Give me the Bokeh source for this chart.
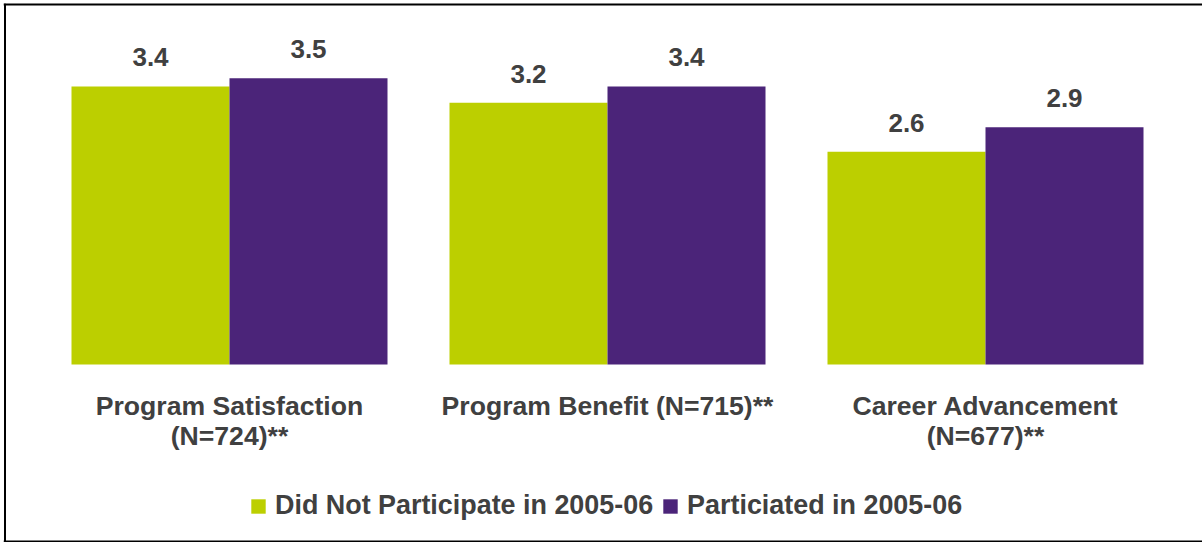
from bokeh.plotting import figure
from bokeh.models import ColumnDataSource, Range1d, Legend, LegendItem, Span
from bokeh.transform import dodge
from bokeh.core.properties import value
from bokeh.embed import file_html
from bokeh.resources import INLINE

# ---- data ----
categories = ["Program Satisfaction\n(N=724)**", "Program Benefit (N=715)**", "Career Advancement\n(N=677)**"]
did_not_participate = [3.4, 3.2, 2.6]
participated = [3.5, 3.4, 2.9]
series_names = ["Did Not Participate in 2005-06", "Particiated in 2005-06"]
colors = ["#BCCF00", "#4B2479"]
value_labels_a = ["3.4", "3.2", "2.6"]
value_labels_b = ["3.5", "3.4", "2.9"]

FONT = "Liberation Sans"
TXT = "#404040"

idx = list(range(len(categories)))
src = ColumnDataSource(dict(idx=idx, cat=categories, a=did_not_participate, b=participated,
                            la=value_labels_a, lb=value_labels_b, zero=[0] * len(idx)))

PX = 378.0  # pixels per category
p = figure(width=1199, height=539, output_backend="svg", toolbar_location=None,
           x_range=Range1d(-0.59788, -0.59788 + 1199 / PX), y_range=Range1d(-2.176, 4.4132),
           min_border=0, min_border_left=0, min_border_right=0, min_border_top=0, min_border_bottom=0)
p.styles = {"margin-left": "3px", "margin-top": "3px"}
p.xaxis.visible = False
p.yaxis.visible = False
p.xgrid.visible = False
p.ygrid.visible = False
p.outline_line_color = None
p.background_fill_color = "white"
p.border_fill_color = "white"

bw = 0.418
r1 = p.vbar(x=dodge("idx", -bw / 2, range=p.x_range), top="a", width=bw, source=src,
            fill_color=colors[0], line_color=None)
r2 = p.vbar(x=dodge("idx", bw / 2, range=p.x_range), top="b", width=bw, source=src,
            fill_color=colors[1], line_color=None)

p.text(x=dodge("idx", -bw / 2, range=p.x_range), y="a", text="la", source=src,
       text_align="center", text_baseline="middle", y_offset=-29,
       text_font=value(FONT), text_font_style="bold", text_font_size="26px", text_color=TXT)
p.text(x=dodge("idx", bw / 2, range=p.x_range), y="b", text="lb", source=src,
       text_align="center", text_baseline="middle", y_offset=-29,
       text_font=value(FONT), text_font_style="bold", text_font_size="26px", text_color=TXT)

p.text(x="idx", y="zero", text="cat", source=src, text_align="center", text_baseline="top",
       y_offset=26, text_font=value(FONT), text_font_style="bold", text_font_size="26.6px",
       text_color=TXT, text_line_height=1.0)

legend = Legend(items=[LegendItem(label=series_names[0], renderers=[r1]),
                       LegendItem(label=series_names[1], renderers=[r2])],
                orientation="horizontal", location=(246, 21),
                padding=0, margin=0, spacing=8, label_standoff=8,
                glyph_width=18, glyph_height=18,
                border_line_color=None, background_fill_alpha=0,
                label_text_font=FONT, label_text_font_style="bold",
                label_text_font_size="26.9px", label_text_color=TXT)
p.add_layout(legend, "center")

# chart border (top, bottom, left)
for loc, dim in [(p.y_range.end, "width"), (p.y_range.start, "width")]:
    p.add_layout(Span(location=loc, dimension=dim, line_color="black", line_width=4))
x_edge = p.x_range.start + 1.5 / PX
p.segment(x0=[x_edge], y0=[p.y_range.start], x1=[x_edge], y1=[p.y_range.end],
          line_color="black", line_width=2)

open("out.html", "w").write(file_html(p, INLINE))
